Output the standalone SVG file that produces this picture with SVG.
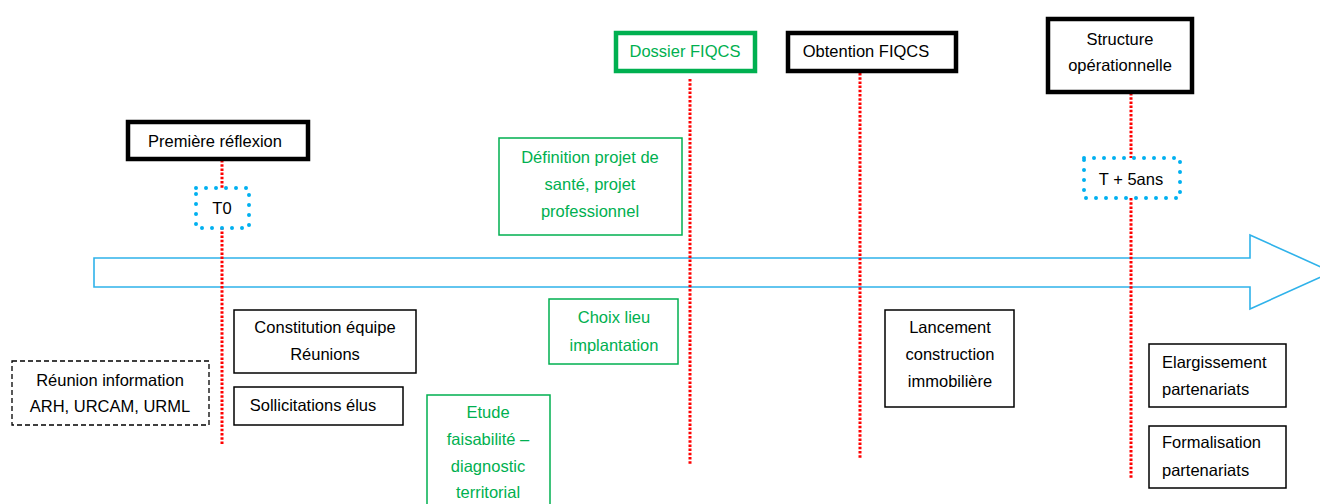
<svg xmlns="http://www.w3.org/2000/svg" width="1320" height="504" viewBox="0 0 1320 504">
<style>
text{font-family:"Liberation Sans",Arial,sans-serif;font-size:16.5px;fill:#000;text-anchor:middle}
.g{fill:#00b050}
.l{text-anchor:start}
.thick{fill:#fff;stroke:#000;stroke-width:4.5}
.thin{fill:#fff;stroke:#000;stroke-width:1.5}
.dash{fill:#fff;stroke:#000;stroke-width:1.3;stroke-dasharray:5 3}
.gthin{fill:#fff;stroke:#00b050;stroke-width:1.5}
.gthick{fill:#fff;stroke:#00b050;stroke-width:4.5}
.dot{fill:#fff;stroke:#00b0f0;stroke-width:4;stroke-dasharray:0 10;stroke-linecap:round}
.red{fill:none;stroke:#ff0000;stroke-width:3;stroke-dasharray:2.5 1.7}
</style>
<g id="timeline-arrow">
<path d="M94,258 H1250 V235 L1332,272 L1250,309 V287 H94 Z" fill="#fff" stroke="#2fb2ea" stroke-width="1.6"/>
</g>
<g id="connectors">
<line class="red" x1="222" y1="160" x2="222" y2="445"/>
<line class="red" x1="690" y1="79" x2="690" y2="465"/>
<line class="red" x1="860" y1="73" x2="860" y2="458"/>
<line class="red" x1="1131" y1="93" x2="1131" y2="478"/>
</g>
<g id="premiere-reflexion">
<rect class="thick" x="128" y="122" width="180" height="37"/>
<text x="215" y="147">Première réflexion</text>
</g>
<g id="t0">
<rect class="dot" x="196" y="188" width="53" height="40"/>
<text x="222" y="214">T0</text>
</g>
<g id="constitution">
<rect class="thin" x="234" y="310" width="182" height="63"/>
<text x="325" y="333">Constitution équipe</text>
<text x="325" y="360">Réunions</text>
</g>
<g id="sollicitations">
<rect class="thin" x="234" y="387" width="169" height="38"/>
<text x="313" y="411">Sollicitations élus</text>
</g>
<g id="reunion-information">
<rect class="dash" x="12" y="361" width="197" height="64"/>
<text x="110" y="386">Réunion information</text>
<text x="110" y="412">ARH, URCAM, URML</text>
</g>
<g id="etude">
<rect class="gthin" x="427" y="395" width="123" height="115"/>
<text class="g" x="488" y="418">Etude</text>
<text class="g" x="488" y="445">faisabilité –</text>
<text class="g" x="488" y="472">diagnostic</text>
<text class="g" x="488" y="498">territorial</text>
</g>
<g id="definition">
<rect class="gthin" x="499" y="138" width="183" height="97"/>
<text class="g" x="590" y="163">Définition projet de</text>
<text class="g" x="590" y="190">santé, projet</text>
<text class="g" x="590" y="217">professionnel</text>
</g>
<g id="choix-lieu">
<rect class="gthin" x="549" y="299" width="129" height="65"/>
<text class="g" x="614" y="323">Choix lieu</text>
<text class="g" x="614" y="351">implantation</text>
</g>
<g id="dossier-fiqcs">
<rect class="gthick" x="616" y="33" width="139" height="38"/>
<text class="g" x="685" y="57">Dossier FIQCS</text>
</g>
<g id="obtention-fiqcs">
<rect class="thick" x="788" y="33" width="168" height="38"/>
<text x="866" y="57">Obtention FIQCS</text>
</g>
<g id="lancement">
<rect class="thin" x="885" y="310" width="129" height="97"/>
<text x="950" y="333">Lancement</text>
<text x="950" y="360">construction</text>
<text x="950" y="387">immobilière</text>
</g>
<g id="structure-operationnelle">
<rect class="thick" x="1048" y="19" width="144" height="73"/>
<text x="1120" y="45">Structure</text>
<text x="1120" y="71">opérationnelle</text>
</g>
<g id="t5ans">
<rect class="dot" x="1084" y="158" width="96" height="40"/>
<text x="1131" y="185">T + 5ans</text>
</g>
<g id="elargissement">
<rect class="thin" x="1149" y="344" width="137" height="63"/>
<text class="l" x="1162" y="368">Elargissement</text>
<text class="l" x="1162" y="395">partenariats</text>
</g>
<g id="formalisation">
<rect class="thin" x="1149" y="426" width="137" height="62"/>
<text class="l" x="1162" y="448">Formalisation</text>
<text class="l" x="1162" y="476">partenariats</text>
</g>
</svg>
